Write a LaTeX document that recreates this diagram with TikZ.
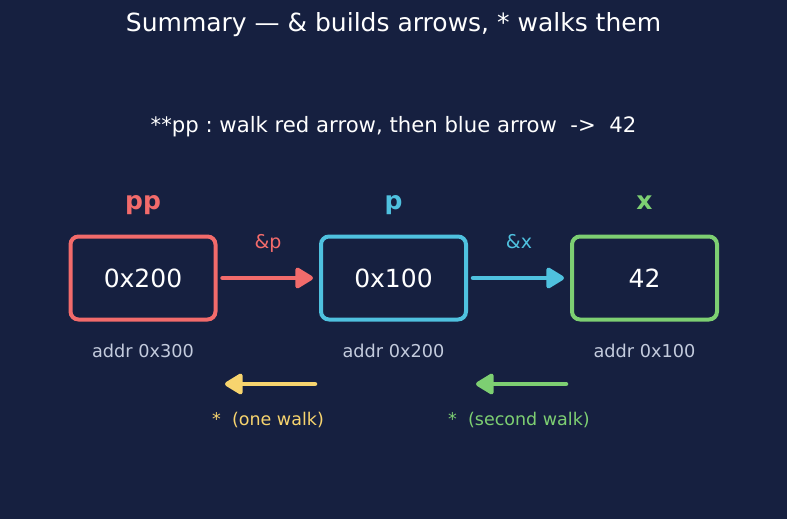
\documentclass[tikz,border=0pt]{standalone}
\usepackage{fontspec}
\setmainfont{DejaVu Sans}
\usetikzlibrary{arrows.meta}
\frenchspacing
\definecolor{bg}{HTML}{162040}
\definecolor{cred}{HTML}{F26B6B}
\definecolor{cblue}{HTML}{4FC1DF}
\definecolor{cgreen}{HTML}{7DCF72}
\definecolor{cyellow}{HTML}{F7D46E}
\definecolor{caddr}{HTML}{C3CBDD}
\begin{document}
\begin{tikzpicture}[x=1pt,y=-1pt,
  cell/.style={draw, line width=4pt, rounded corners=8pt, minimum width=145pt, minimum height=83pt, inner sep=0pt, text=white, font=\fontsize{25}{30}\selectfont},
  varname/.style={anchor=base, font=\bfseries\fontsize{25}{30}\selectfont},
  addr/.style={anchor=base, text=caddr, font=\fontsize{17.7}{21}\selectfont},
  lbl/.style={anchor=base, font=\fontsize{19}{22}\selectfont},
  walk/.style={anchor=base, font=\fontsize{17.5}{21}\selectfont},
  arr/.style={line width=4.5pt, line cap=round, -{Triangle[length=20pt,width=23pt,round]}}
]
\fill[bg] (0,0) rectangle (787,519);
\useasboundingbox (0,0) rectangle (787,519);
\node[anchor=base, text=white, font=\fontsize{25}{30}\selectfont] (title) at (393.5,32) {Summary — \& builds arrows, * walks them};
\node[anchor=base, text=white, font=\fontsize{21.2}{25}\selectfont] (sub) at (393.5,132) {**pp : walk red arrow, then blue arrow \ ->\ \ 42};
\node[cell, draw=cred] (pp) at (143,278) {0x200};
\node[cell, draw=cblue] (p) at (393.5,278) {0x100};
\node[cell, draw=cgreen] (x) at (644.5,278) {42};
\node[varname, text=cred] (npp) at (143,209) {pp};
\node[varname, text=cblue] (np) at (393.5,209) {p};
\node[varname, text=cgreen] (nx) at (644.5,209) {x};
\node[addr] (app) at (143,357) {addr 0x300};
\node[addr] (ap) at (393.5,357) {addr 0x200};
\node[addr] (ax) at (644.5,357) {addr 0x100};
\coordinate (m1) at (268,248);
\coordinate (m2) at (519,248);
\draw[arr, cred] ([xshift=5pt]pp.east) -- ([xshift=-6pt]p.west);
\draw[arr, cblue] ([xshift=5pt]p.east) -- ([xshift=-6pt]x.west);
\node[lbl, text=cred] (l1) at (m1) {\&p};
\node[lbl, text=cblue] (l2) at (m2) {\&x};
\coordinate (y1) at (315,384);
\coordinate (y2) at (225,384);
\coordinate (g1) at (566,384);
\coordinate (g2) at (476,384);
\draw[arr, cyellow] (y1) -- (y2);
\draw[arr, cgreen] (g1) -- (g2);
\node[walk, text=cyellow] (w1) at (268,425) {* \ (one walk)};
\node[walk, text=cgreen] (w2) at (519,425) {* \ (second walk)};
\end{tikzpicture}
\end{document}
